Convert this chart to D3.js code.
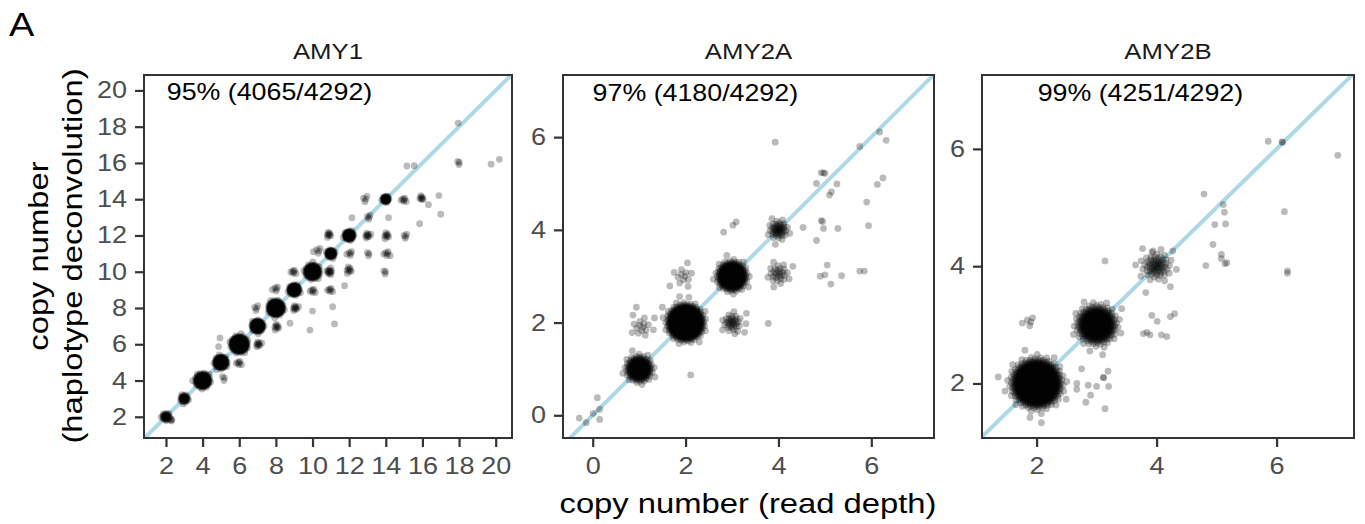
<!DOCTYPE html>
<html><head><meta charset="utf-8">
<script src="https://cdn.jsdelivr.net/npm/d3@7"></script>
<style>
body{margin:0;background:#fff;}
svg{display:block;font-family:"Liberation Sans",Arial,Helvetica,sans-serif;}
</style></head>
<body>
<svg id="chart" width="1365" height="524"></svg>
<script>
// ---------------- DATA ----------------
const genes = ["AMY1", "AMY2A", "AMY2B"];
const concordanceLabels = ["95% (4065/4292)", "97% (4180/4292)", "99% (4251/4292)"];
// label anchor positions in data units [x, y]
const labelPositions = [[7.65, 19.9], [2.21, 6.95], [3.73, 6.95]];
const xDomains = [[0.80, 20.89], [-0.64, 7.35], [1.09, 7.29]];
const yDomains = [[0.83, 20.85], [-0.49, 7.34], [1.07, 7.26]];
const xTicks = [[2,4,6,8,10,12,14,16,18,20], [0,2,4,6], [2,4,6]];
const yTicks = [[2,4,6,8,10,12,14,16,18,20], [0,2,4,6], [2,4,6]];

// clusters: [readDepthCN, haplotypeCN, count, jitterSpread]
const amy1Clusters = [
  [2,2,40,0.3],[3,3,50,0.3],[4,4,450,0.54],[5,5,330,0.46],[6,6,1020,0.6],
  [7,7,380,0.42],[8,8,770,0.54],[9,9,260,0.38],[10,10,431,0.54],[11,11,100,0.3],
  [12,12,170,0.34],[13.05,13.0,4,0.15],[14,14,60,0.24],
  [2.3,1.85,3,0.08],
  [9.05,8.0,9,0.2],[8.05,6.96,8,0.2],[7.04,6.0,9,0.2],[5.97,4.97,6,0.18],[5.15,4.15,3,0.15],
  [6.9,7.98,4,0.18],[8.0,9.05,5,0.2],[8.95,10.0,6,0.18],[10.0,8.95,6,0.18],[10.95,9.0,6,0.18],
  [10.92,10.0,12,0.22],[12.0,10.1,8,0.22],[10.3,11.15,5,0.25],[12.05,11.0,5,0.18],[10.9,12.05,8,0.18],
  [13.0,12.0,9,0.2],[14.05,12.0,8,0.2],[15.05,11.95,4,0.15],[13.05,11.0,3,0.12],[14.05,11.0,6,0.22],
  [13.95,10.0,3,0.12],[12.85,14.0,4,0.2],[14.97,13.97,6,0.18],[15.95,14.05,7,0.15],[17.98,16.03,3,0.12]
];
const amy1Singles = [
  [4.95,6.35],[4.87,5.87],[9.86,6.78],[11.2,7.12],[11.1,8.07],[10.0,7.83],[8.77,7.16],[11.75,9.23],
  [12.15,12.98],[14.15,12.98],[16.33,13.7],[16.9,14.2],[17.0,13.17],[15.85,12.65],[15.15,15.83],
  [15.55,15.85],[19.75,15.93],[20.2,16.2],[17.95,18.2]
];
const amy2aClusters = [
  [1.0,1.0,350,0.42],[2.0,2.0,2905,0.55],[3.0,3.0,850,0.46],[4.0,4.0,50,0.32],
  [1.05,1.9,15,0.32],[1.95,3.0,12,0.3],[3.0,2.0,35,0.3],[4.0,3.05,30,0.35]
];
const amy2aSingles = [
  [-0.29,-0.06],[-0.14,-0.16],[0.01,0.04],[0.15,-0.09],[0.1,0.38],[0.15,0.13],
  [0.94,2.33],[1.33,2.1],[1.5,2.33],[1.87,2.56],[1.66,2.79],
  [2.11,0.87],[3.78,1.98],[3.31,2.2],[3.27,1.79],[3.06,1.76],
  [2.82,3.95],[3.02,4.1],[3.09,4.17],[4.53,4.05],[3.93,5.89],
  [4.82,5.0],[4.92,5.23],[4.97,5.23],[5.0,5.22],[5.1,4.75],[5.14,4.82],[5.26,4.99],
  [5.75,5.8],[6.18,6.11],[6.32,5.93],[6.25,5.12],[6.13,4.98],[5.9,4.6],[5.94,4.09],[5.28,4.03],
  [4.92,4.2],[4.95,4.18],[4.97,4.03],[4.82,3.77],
  [4.9,3.0],[5.0,3.03],[5.05,3.24],[5.13,2.83],[5.36,3.01],[5.75,3.11],[5.85,3.11]
];
const amy2bClusters = [
  [2.0,2.0,3400,0.6],[3.0,3.0,750,0.5],[4.0,4.0,70,0.38],[1.88,3.05,5,0.12]
];
const amy2bSingles = [
  [2.75,2.25],[2.67,1.9],[2.67,2.0],[2.82,1.68],[2.86,1.97],[3.0,1.95],[2.9,1.8],[3.11,2.1],[3.12,2.1],
  [3.19,2.21],[3.2,1.95],[3.14,1.57],[3.1,2.49],[3.14,4.09],[1.36,2.11],[1.89,1.42],[2.08,1.33],
  [3.92,3.16],[4.01,3.06],[3.78,2.85],[3.84,2.87],[3.89,2.83],[4.08,2.83],[4.17,2.8],[4.23,3.14],[4.3,3.19],[3.82,3.55],
  [3.94,4.26],[4.27,4.26],[3.65,4.02],[4.23,3.65],
  [4.79,5.23],[5.11,5.05],[5.13,4.92],[4.97,4.71],[5.15,4.72],[4.94,4.37],[5.08,4.2],[5.08,4.13],[5.14,4.04],[5.17,4.06],[4.82,4.01],
  [5.86,6.13],[6.09,6.12],[6.1,6.11],[7.02,5.89],[6.13,4.93],[6.18,3.92],[6.18,3.88]
];
const clusterSets = [amy1Clusters, amy2aClusters, amy2bClusters];
const singleSets = [amy1Singles, amy2aSingles, amy2bSingles];

// ---------------- LAYOUT ----------------
const SX = 1.15; // horizontal glyph stretch of the original typeface
const panelX = [[144, 512], [563, 934], [982, 1354]];
const panelTop = 75, panelBottom = 438;
const svg = d3.select("#chart");
const defs = svg.append("defs");
defs.append("filter").attr("id", "soft").attr("x", "-5%").attr("y", "-5%").attr("width", "110%").attr("height", "110%")
  .append("feGaussianBlur").attr("stdDeviation", 0.6);

function expand(c) {
  const [cx, cy, n, R] = c;
  if (n === 1) return [[cx, cy]];
  const pts = [];
  const L = Math.log(2 * n);
  for (let i = 0; i < n; i++) {
    const u = (i + 0.5) / n;
    const r = R * Math.sqrt(Math.log(1 / (1 - u)) / L);
    const th = i * 2.399963229728653;
    pts.push([cx + r * Math.cos(th), cy + r * Math.sin(th)]);
  }
  return pts;
}
function stretch(sel) {
  sel.each(function () {
    const t = d3.select(this);
    const x = +t.attr("x") || 0, y = +t.attr("y") || 0;
    t.attr("x", 0).attr("y", 0).attr("transform", `translate(${x},${y}) scale(${SX},1)`);
  });
}

genes.forEach((g, k) => {
  const x = d3.scaleLinear().domain(xDomains[k]).range(panelX[k]);
  const y = d3.scaleLinear().domain(yDomains[k]).range([panelBottom, panelTop]);
  const gp = svg.append("g");

  const clipId = "clip" + k;
  defs.append("clipPath").attr("id", clipId)
    .append("rect").attr("x", panelX[k][0]).attr("y", panelTop)
    .attr("width", panelX[k][1] - panelX[k][0]).attr("height", panelBottom - panelTop);

  const inner = gp.append("g").attr("clip-path", `url(#${clipId})`);
  const lo = Math.min(xDomains[k][0], yDomains[k][0]) - 1;
  const hi = Math.max(xDomains[k][1], yDomains[k][1]) + 1;
  inner.append("line")
    .attr("x1", x(lo)).attr("y1", y(lo)).attr("x2", x(hi)).attr("y2", y(hi))
    .attr("stroke", "#ADD8E6").attr("stroke-width", 4);

  let pts = [];
  clusterSets[k].forEach(c => { pts = pts.concat(expand(c)); });
  singleSets[k].forEach(s => pts.push(s));
  inner.append("g").attr("filter", "url(#soft)")
    .selectAll("circle").data(pts).join("circle")
    .attr("cx", d => x(d[0])).attr("cy", d => y(d[1])).attr("r", 3.4)
    .attr("fill", "#000").attr("fill-opacity", 0.27);

  gp.append("rect").attr("x", panelX[k][0]).attr("y", panelTop)
    .attr("width", panelX[k][1] - panelX[k][0]).attr("height", panelBottom - panelTop)
    .attr("fill", "none").attr("stroke", "#333333").attr("stroke-width", 2);

  const ax = gp.append("g").attr("transform", `translate(0,${panelBottom})`)
    .call(d3.axisBottom(x).tickValues(xTicks[k]).tickFormat(d3.format("d")).tickSize(9).tickPadding(10));
  const ay = gp.append("g").attr("transform", `translate(${panelX[k][0]},0)`)
    .call(d3.axisLeft(y).tickValues(yTicks[k]).tickFormat(d3.format("d")).tickSize(9).tickPadding(8));
  [ax, ay].forEach(a => {
    a.select(".domain").remove();
    a.selectAll(".tick line").attr("stroke", "#333333").attr("stroke-width", 2.2);
    a.selectAll(".tick text").attr("fill", "#4D4D4D").style("font-size", "23.5px")
      .style("font-family", "'Liberation Sans',Arial,sans-serif").call(stretch);
  });

  gp.append("text").attr("x", (panelX[k][0] + panelX[k][1]) / 2).attr("y", 59)
    .attr("text-anchor", "middle").style("font-size", "22.4px").attr("fill", "#1A1A1A").text(g).call(stretch);

  gp.append("text").attr("x", x(labelPositions[k][0])).attr("y", y(labelPositions[k][1]))
    .attr("dy", "0.35em").attr("text-anchor", "middle").style("font-size", "23.3px")
    .attr("fill", "#000").text(concordanceLabels[k]).call(stretch);
});

svg.append("text").attr("x", 9).attr("y", 36).style("font-size", "33px").attr("fill", "#000").text("A").call(stretch);

svg.append("text").attr("x", 748).attr("y", 513).attr("text-anchor", "middle")
  .style("font-size", "28.5px").attr("fill", "#000").text("copy number (read depth)").call(stretch);
const yt = svg.append("text").attr("transform", `translate(0,256) rotate(-90) scale(${SX},1)`)
  .attr("text-anchor", "middle").style("font-size", "28.5px").attr("fill", "#000");
yt.append("tspan").attr("x", 0).attr("y", 48).text("copy number");
yt.append("tspan").attr("x", 0).attr("y", 82).text("(haplotype deconvolution)");
</script>
</body></html>
